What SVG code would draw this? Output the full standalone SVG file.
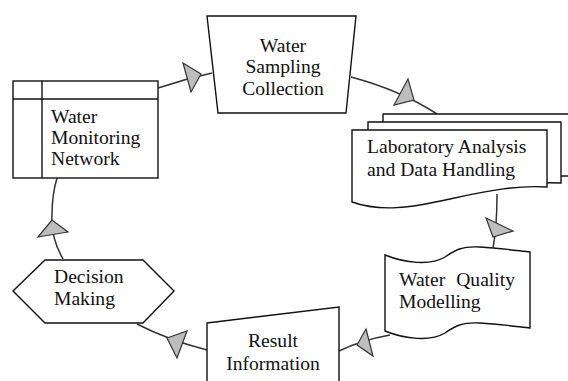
<svg xmlns="http://www.w3.org/2000/svg" width="568" height="381" viewBox="0 0 568 381">
<style>
.node{fill:#fff;stroke:#111;stroke-width:1.4;stroke-linejoin:miter}
.conn{fill:none;stroke:#333;stroke-width:1.5}
.arr{fill:#bdbdbd;stroke:#333;stroke-width:1.2;stroke-linejoin:miter}
text{font-family:"Liberation Serif","Times New Roman",serif;font-size:19.6px;fill:#111}
.c{text-anchor:middle}
</style>
<rect width="568" height="381" fill="#fff"/>
<g id="connectors">
<path class="conn" d="M158,88 Q185,79 212,73"/>
<polygon class="arr" points="183,63 191,92 201,74"/>
<path class="conn" d="M351,77 Q400,90 437,114"/>
<polygon class="arr" points="408,79 394,105 414,100"/>
<path class="conn" d="M497,194 C497,215 496,232 493,248"/>
<polygon class="arr" points="486,218 513,231 493,237"/>
<path class="conn" d="M390,335 Q362,340 339,351"/>
<polygon class="arr" points="366,329 373,356 357,345"/>
<path class="conn" d="M207,350 Q168,340 137,324"/>
<polygon class="arr" points="187,331 177,358 167,338"/>
<path class="conn" d="M63,259 C55,245 51,230 52,215 C52,200 54,188 57,178"/>
<polygon class="arr" points="38,237 68,232 52,220"/>
</g>
<g id="monitoring">
<rect class="node" x="13" y="81" width="145" height="97"/>
<line class="node" x1="42" y1="81" x2="42" y2="178"/>
<line class="node" x1="13" y1="99" x2="158" y2="99"/>
<text x="51" y="123">Water</text>
<text x="51" y="144">Monitoring</text>
<text x="51" y="165">Network</text>
</g>
<g id="sampling">
<polygon class="node" points="207,16 356,16 346,113 218,113"/>
<text class="c" x="283" y="52">Water</text>
<text class="c" x="283" y="73">Sampling</text>
<text class="c" x="283" y="95">Collection</text>
</g>
<g id="laboratory">
<path class="node" d="M383,114 H578 V176 H540 L383,185 Z"/>
<path class="node" d="M368,122 H561 V183 C540,182 520,184 500,188 L368,192 Z"/>
<path class="node" d="M352,130 H547 V187 C520,185 490,190 450,199 C410,208 380,212 352,202 Z"/>
<text x="367" y="153">Laboratory Analysis</text>
<text x="367" y="176">and Data Handling</text>
</g>
<g id="modelling">
<path class="node" d="M385,255 C405,263 430,266 445,257 C455,250 462,246 480,247 C500,248 520,251 530,252 L530,328 C520,327 500,324 480,323 C462,322 455,326 445,333 C430,342 405,339 385,331 Z"/>
<text x="399" y="286" word-spacing="6">Water Quality</text>
<text x="399" y="308">Modelling</text>
</g>
<g id="result">
<path class="node" d="M207,323 L339,307 L339,392 L207,392 Z"/>
<text class="c" x="273" y="347">Result</text>
<text class="c" x="273" y="370">Information</text>
</g>
<g id="decision">
<polygon class="node" points="13,291 45,260 143,260 174,291 143,323 45,323"/>
<text x="54" y="283">Decision</text>
<text x="54" y="305">Making</text>
</g>
</svg>
